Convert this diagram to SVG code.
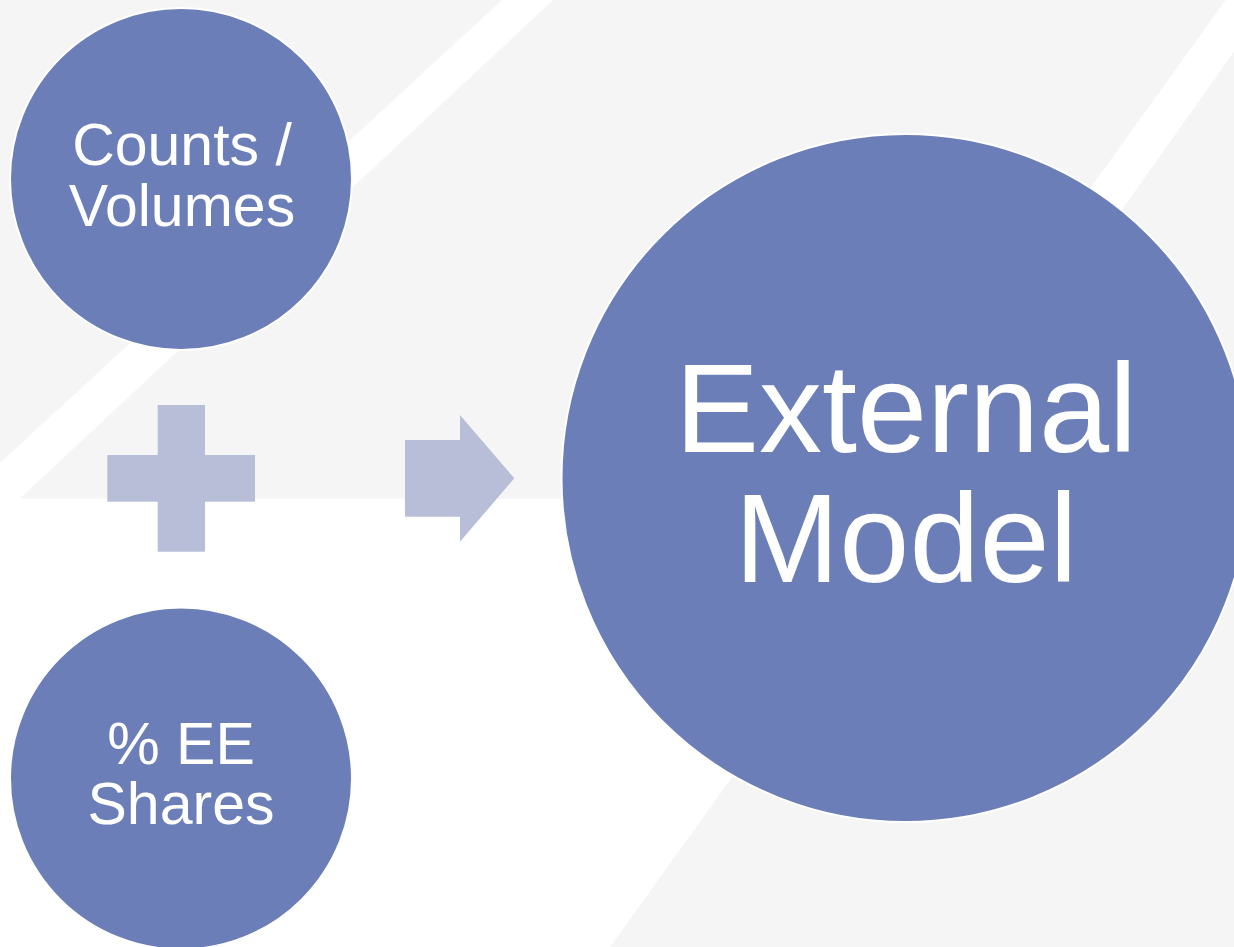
<svg xmlns="http://www.w3.org/2000/svg" width="1234" height="947" viewBox="0 0 1234 947">
  <style>
    .bg { fill: #f5f5f5; }
    .node { fill: #6b7eb8; stroke: #ffffff; stroke-width: 2; }
    .sym { fill: #b8bed8; }
    .lbl { font-family: "Liberation Sans", Arial, sans-serif; fill: #ffffff; text-anchor: middle; }
    .s { font-size: 59px; }
    .l { font-size: 126px; }
  </style>
  <rect x="0" y="0" width="1234" height="947" fill="#ffffff"/>
  <g id="background">
    <polygon class="bg" points="0,0 502,0 0,463"/>
    <polygon class="bg" points="553,0 1225.7,0 867,498.5 20,498.5"/>
    <polygon class="bg" points="1234,51.7 1121.7,210 731.7,777.7 610,947 1234,947"/>
  </g>
  <g id="connectors">
    <g id="plus">
      <rect class="sym" x="157.7" y="405" width="47.3" height="146.7"/>
      <rect class="sym" x="107.3" y="455" width="147.7" height="46.7"/>
    </g>
    <polygon id="arrow" class="sym" points="405,440 460,440 460,415 514.3,478.3 460,541.7 460,516.7 405,516.7"/>
  </g>
  <g id="node-counts">
    <circle class="node" cx="181" cy="179" r="171"/>
    <text class="lbl s"><tspan x="182" y="165">Counts /</tspan><tspan x="182" y="226">Volumes</tspan></text>
  </g>
  <g id="node-shares">
    <circle class="node" cx="181" cy="778.5" r="171"/>
    <text class="lbl s"><tspan x="181" y="764">% EE</tspan><tspan x="181" y="824">Shares</tspan></text>
  </g>
  <g id="node-external">
    <circle class="node" cx="905.5" cy="478" r="344"/>
    <text class="lbl l"><tspan x="906" y="452">External</tspan><tspan x="906" y="582">Model</tspan></text>
  </g>
</svg>
